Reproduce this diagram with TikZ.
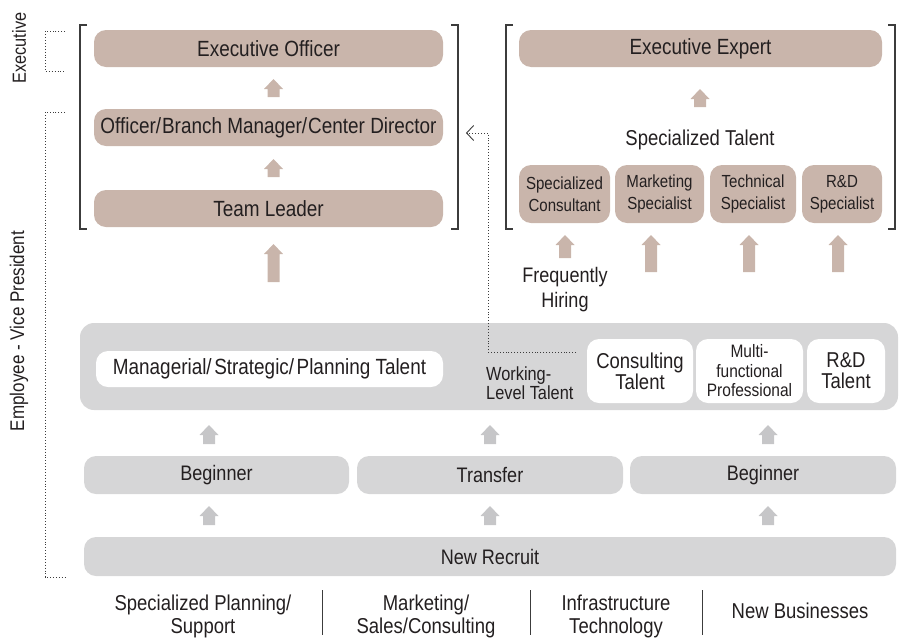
\documentclass[tikz,border=0pt]{standalone}
\usepackage{fontspec}
\setmainfont[FakeStretch=0.86]{Liberation Sans}
\usetikzlibrary{arrows.meta}
\definecolor{brn}{RGB}{201,181,171}
\definecolor{pgray}{RGB}{214,214,215}
\definecolor{agray}{RGB}{198,198,200}
\definecolor{txt}{RGB}{35,31,32}
\definecolor{lin}{RGB}{60,60,60}
\newcommand\fs[2]{\fontsize{#1}{#2}\selectfont}
% block arrow: name, x, ytop, ybot, colour
\newcommand\blockarr[5]{%
  \fill[#5] (#2-9.5,#3+10) -- (#2,#3) -- (#2+9.5,#3+10) -- (#2+6,#3+10)
    -- (#2+6,#4) -- (#2-6,#4) -- (#2-6,#3+10) -- cycle;
  \coordinate (#1) at (#2,#3);}
\tikzset{
  box/.style={rectangle, rounded corners=12pt, inner sep=0pt, align=center, text=txt},
  brownbox/.style={box, fill=brn},
  graybox/.style={box, fill=pgray},
  whitebox/.style={box, fill=white},
  lbl/.style={inner sep=0pt, align=center, text=txt},
  bracket/.style={draw=lin, line width=1.1pt},
  dotline/.style={draw=lin, line width=0.9pt, dotted},
  sepline/.style={draw=lin, line width=0.9pt},
  big/.style={font=\fs{22}{24}}
}
\begin{document}
\begin{tikzpicture}[x=1pt,y=-1pt]
\useasboundingbox (0,0) rectangle (904,643);
% ---------- left group ----------
\node[brownbox, big, minimum width=349pt, minimum height=37pt] (eo) at (268.5,48.5) {Executive Officer};
\node[brownbox, big, minimum width=349pt, minimum height=37pt] (obm) at (268.5,127.5) {Officer/\kern1pt Branch Manager/\kern1pt Center Director};
\node[brownbox, big, minimum width=349pt, minimum height=37pt] (tl) at (268.5,208.5) {Team Leader};
\blockarr{a1}{273.5}{79}{97}{brn}
\blockarr{a2}{273.5}{159}{177}{brn}
\blockarr{a3}{273.5}{244}{282}{brn}
\draw[bracket] (87,25) -- (80,25) -- (80,229) -- (87,229);
\draw[bracket] (451,25) -- (458,25) -- (458,229) -- (451,229);
% ---------- right group ----------
\node[brownbox, big, minimum width=363pt, minimum height=37pt] (ee) at (700.5,48.5) {Executive Expert};
\blockarr{a4}{700}{89}{107}{brn}
\node[lbl, font=\fs{21.5}{24}] (spt) at (700,140) {Specialized Talent};
\node[brownbox, font=\fs{17.5}{22}, minimum width=91pt, minimum height=58pt] (sc) at (564.5,194) {Specialized\\Consultant};
\node[brownbox, font=\fs{17.5}{22}, minimum width=89pt, minimum height=58pt] (ms) at (659.5,194) {Marketing\\Specialist};
\node[brownbox, font=\fs{17.5}{22}, minimum width=86pt, minimum height=58pt] (ts) at (753,194) {Technical\\Specialist};
\node[brownbox, font=\fs{17.5}{22}, minimum width=80pt, minimum height=58pt] (rs) at (842,194) {R\&D\\Specialist};
\draw[bracket] (513,25) -- (506,25) -- (506,229) -- (513,229);
\draw[bracket] (888,25) -- (895,25) -- (895,229) -- (888,229);
\blockarr{a5}{565}{235}{258}{brn}
\blockarr{a6}{651}{235}{272}{brn}
\blockarr{a7}{749}{235}{272}{brn}
\blockarr{a8}{838}{235}{272}{brn}
\node[lbl, font=\fs{21}{25}] (fh) at (565,290) {Frequently\\Hiring};
% ---------- talent panel ----------
\node[graybox, rounded corners=14pt, minimum width=818pt, minimum height=87pt] (panel) at (489,366.5) {};
\node[whitebox, big, minimum width=347pt, minimum height=36pt] (mspt) at (269.5,369) {Managerial/\kern2.5pt Strategic/\kern2.5pt Planning Talent};
\node[lbl, anchor=west, align=left, font=\fs{19}{19.5}] (wlt) at (486,383) {Working-\\Level Talent};
\node[whitebox, font=\fs{21.5}{21}, minimum width=106pt, minimum height=64pt] (ct) at (640,371) {Consulting\\Talent};
\node[whitebox, font=\fs{18}{19.5}, minimum width=107pt, minimum height=64pt] (mfp) at (749.5,371) {Multi-\\functional\\Professional};
\node[whitebox, font=\fs{21.5}{21}, minimum width=78pt, minimum height=64pt] (rdt) at (846,371) {R\&D\\Talent};
\coordinate (dstart) at (576,352);
\coordinate (dend) at (466,133);
\draw[dotline, -{Straight Barb[length=7pt,width=15pt]}] (dstart) -- (488,352) -- (488,133) -- (dend);
% ---------- entry rows ----------
\blockarr{g1}{209}{425}{444}{agray}
\blockarr{g2}{490}{425}{444}{agray}
\blockarr{g3}{768}{425}{444}{agray}
\node[graybox, font=\fs{21}{24}, minimum width=265pt, minimum height=38pt] (b1) at (216.5,475) {Beginner};
\node[graybox, font=\fs{21}{24}, minimum width=266pt, minimum height=38pt] (tr) at (490,475) {Transfer};
\node[graybox, font=\fs{21}{24}, minimum width=266pt, minimum height=38pt] (b2) at (763,475) {Beginner};
\blockarr{g4}{209}{506}{525}{agray}
\blockarr{g5}{490}{506}{525}{agray}
\blockarr{g6}{768}{506}{525}{agray}
\node[graybox, font=\fs{21}{24}, minimum width=812pt, minimum height=39pt] (nr) at (490,556.5) {New Recruit};
% ---------- bottom labels ----------
\node[lbl, font=\fs{21.5}{23}] (l1) at (203,616.5) {Specialized Planning/\\Support};
\node[lbl, font=\fs{21.5}{23}] (l2) at (426,616.5) {Marketing/\\Sales/Consulting};
\node[lbl, font=\fs{21.5}{23}] (l3) at (616,616.5) {Infrastructure\\Technology};
\node[lbl, font=\fs{21.5}{23}] (l4) at (800,611) {New Businesses};
\draw[sepline] (322,590) -- (322,635);
\draw[sepline] (530,590) -- (530,635);
\draw[sepline] (702,590) -- (702,635);
% ---------- side markers ----------
\draw[dotline] (65,31) -- (45,31) -- (45,71) -- (65,71);
\draw[dotline] (65,112) -- (45,112) -- (45,577) -- (65,577);
\node[lbl, rotate=90, font=\fs{19}{22}] (lex) at (19,48) {Executive};
\node[lbl, rotate=90, font=\fs{19.8}{22}] (lemp) at (19,331) {Employee - Vice President};
\end{tikzpicture}
\end{document}
